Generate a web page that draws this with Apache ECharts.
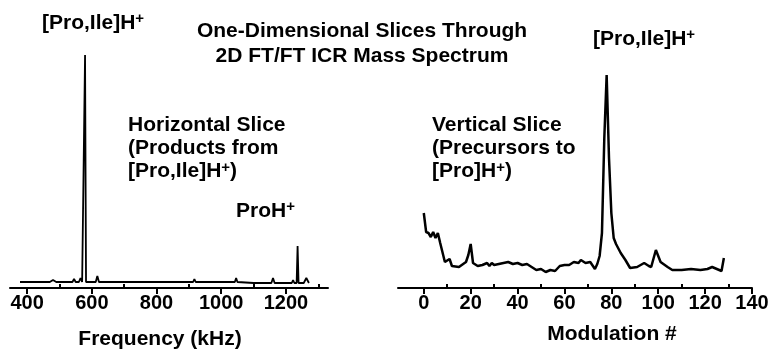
<!DOCTYPE html>
<html>
<head>
<meta charset="utf-8">
<script src="https://cdn.jsdelivr.net/npm/echarts@6/dist/echarts.min.js"></script>
<style>
  html, body { margin: 0; padding: 0; background: #fff; }
  #chart { width: 783px; height: 357px; }
</style>
</head>
<body>
<div id="chart"></div>
<script>
// horizontal slice: frequency (kHz) vs. intensity (arb. units)
const freqKHz = [
  378, 420, 470, 480, 490,
  540, 545, 550, 560, 565,
  570, 576, 579, 582, 612,
  617, 622, 700, 760, 860,
  913, 917, 921, 1000, 1042,
  1046, 1050, 1100, 1155, 1160,
  1165, 1218, 1222, 1226, 1233,
  1236, 1239, 1255, 1263, 1271
]
const freqIntensity = [
  6, 6, 6, 8, 6,
  6, 9, 6, 6, 10,
  6, 6, 233, 6, 6,
  12, 6, 6, 6, 6,
  6, 9, 6, 6, 6,
  10, 6, 5, 5, 10,
  5, 5, 8, 5, 5,
  42, 5, 5, 10, 5
]

// vertical slice: modulation # vs. intensity (arb. units)
const modIndex = [
  0, 1, 2, 3, 4, 5, 6, 7, 9, 11,
  12, 15, 18, 19, 20, 21, 23, 25, 27, 28,
  29, 30, 32, 34, 36, 38, 40, 42, 44, 46,
  48, 50, 52, 54, 56, 58, 60, 62, 64, 66,
  67, 69, 71, 73, 74, 75, 76, 77, 78, 79,
  80, 81, 82, 84, 86, 88, 91, 94, 96, 97,
  99, 101, 104, 106, 110, 114, 118, 121, 123, 125,
  127, 128
]
const modIntensity = [
  75, 56, 55, 51, 56, 50, 55, 45, 26, 29,
  22, 21, 26, 33, 44, 25, 22, 23, 25, 22,
  25, 23, 24, 25, 26, 24, 25, 23, 24, 21,
  18, 19, 16, 18, 17, 22, 23, 23, 26, 25,
  28, 25, 26, 19, 24, 32, 55, 150, 213, 130,
  75, 50, 44, 35, 28, 20, 21, 25, 22, 21,
  38, 26, 21, 18, 18, 19, 18, 19, 21, 19,
  17, 30
]

const freqTicks = [400, 600, 800, 1000, 1200]
const freqMinorTicks = [500, 700, 900, 1100, 1300]
const modTicks = [0, 20, 40, 60, 80, 100, 120, 140]
const modMinorTicks = [10, 30, 50, 70, 90, 110, 130]

const font = "'Liberation Sans', Arial, sans-serif"
const ink = '#000'

const chart = echarts.init(document.getElementById('chart'))

const supRich = {
  sup: { fontSize: 15, fontWeight: 'bold', fontFamily: font, color: ink, verticalAlign: 'top', lineHeight: 14 }
}

const makeText = (x, y, text, vAlign) => ({
  type: 'text',
  x: x,
  y: y,
  style: {
    text: text,
    fontSize: 21,
    fontWeight: 'bold',
    fontFamily: font,
    fill: ink,
    lineHeight: 23,
    align: 'left',
    verticalAlign: vAlign || 'middle',
    rich: supRich
  }
})

const majorAxis = (grid, min, max, ticks) => ({
  type: 'value',
  gridIndex: grid,
  min: min,
  max: max,
  splitLine: { show: false },
  axisLine: { show: true, onZero: false, lineStyle: { color: ink, width: 2 } },
  axisTick: { show: true, customValues: ticks, length: 6, lineStyle: { color: ink, width: 2 } },
  axisLabel: {
    customValues: ticks,
    formatter: v => String(v),
    margin: 5,
    color: ink,
    fontSize: 20,
    fontWeight: 'bold',
    fontFamily: font
  }
})

const minorAxis = (grid, min, max, ticks) => ({
  type: 'value',
  gridIndex: grid,
  min: min,
  max: max,
  splitLine: { show: false },
  axisLine: { show: false },
  axisTick: { show: true, customValues: ticks, length: 4, lineStyle: { color: ink, width: 2 } },
  axisLabel: { show: false }
})

const hiddenY = grid => ({
  type: 'value',
  gridIndex: grid,
  min: 0,
  max: 233,
  show: false
})

const option = {
  backgroundColor: '#fff',
  animation: false,
  title: {
    text: 'One-Dimensional Slices Through\n2D FT/FT ICR Mass Spectrum',
    left: 357,
    top: 14,
    textAlign: 'center',
    textStyle: {
      fontSize: 21,
      fontWeight: 'bold',
      fontFamily: font,
      color: ink,
      lineHeight: 25
    }
  },
  grid: [
    { left: 10, width: 318, top: 55, bottom: 69 },
    { left: 398, width: 354, top: 55, bottom: 69 }
  ],
  xAxis: [
    majorAxis(0, 347, 1330, freqTicks),
    minorAxis(0, 347, 1330, freqMinorTicks),
    majorAxis(1, -11, 140, modTicks),
    minorAxis(1, -11, 140, modMinorTicks)
  ],
  yAxis: [hiddenY(0), hiddenY(1)],
  series: [
    {
      name: 'Horizontal Slice',
      type: 'line',
      xAxisIndex: 0,
      yAxisIndex: 0,
      data: freqKHz.map((f, i) => [f, freqIntensity[i]]),
      showSymbol: false,
      lineStyle: { color: ink, width: 1.8 }
    },
    {
      name: 'Vertical Slice',
      type: 'line',
      xAxisIndex: 2,
      yAxisIndex: 1,
      data: modIndex.map((m, i) => [m, modIntensity[i]]),
      showSymbol: false,
      lineStyle: { color: ink, width: 2.5 }
    }
  ],
  graphic: [
    makeText(42, 23, '[Pro,Ile]H{sup|+}'),
    makeText(593, 39, '[Pro,Ile]H{sup|+}'),
    makeText(128, 114, 'Horizontal Slice\n(Products from\n[Pro,Ile]H{sup|+})', 'top'),
    makeText(236, 211, 'ProH{sup|+}'),
    makeText(432, 114, 'Vertical Slice\n(Precursors to\n[Pro]H{sup|+})', 'top'),
    {
      type: 'text',
      x: 160,
      y: 339,
      style: { text: 'Frequency (kHz)', fontSize: 21, fontWeight: 'bold', fontFamily: font, fill: ink, align: 'center', verticalAlign: 'middle' }
    },
    {
      type: 'text',
      x: 612,
      y: 334,
      style: { text: 'Modulation #', fontSize: 21, fontWeight: 'bold', fontFamily: font, fill: ink, align: 'center', verticalAlign: 'middle' }
    }
  ]
}

chart.setOption(option)
</script>
</body>
</html>
